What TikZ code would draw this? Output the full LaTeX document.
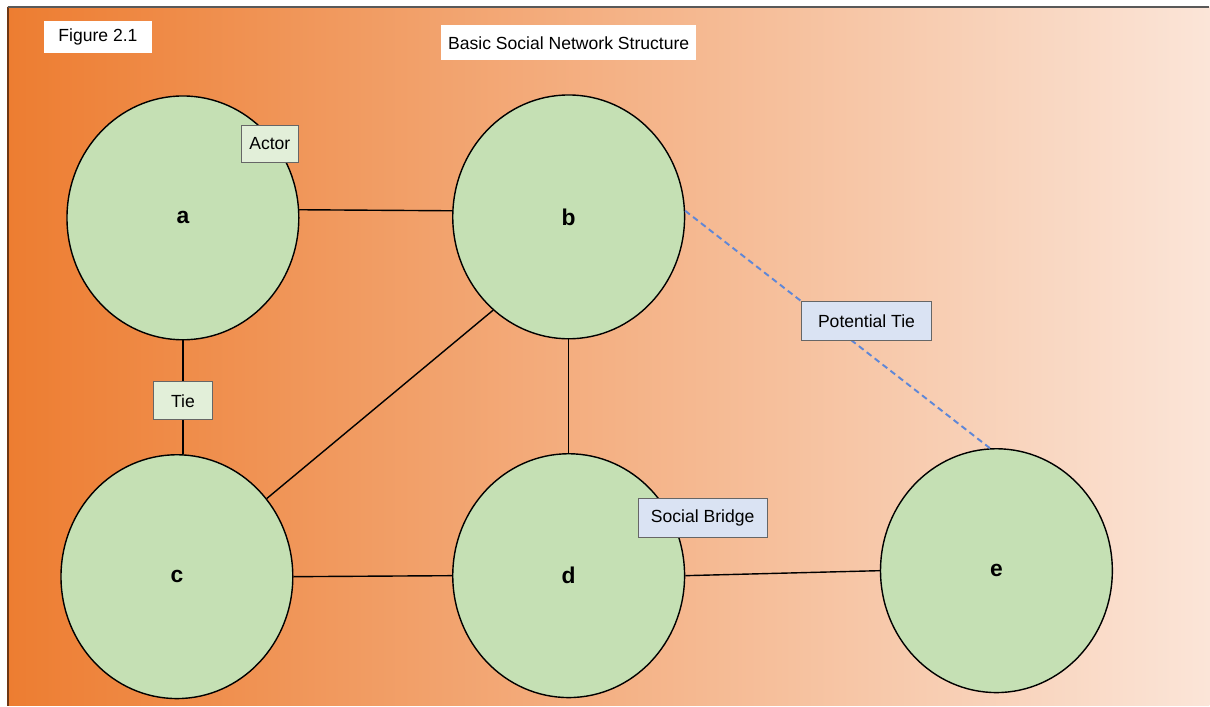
\documentclass[tikz,border=0pt]{standalone}
\usepackage{fontspec}
\setmainfont{Liberation Sans}
\usetikzlibrary{shapes.geometric}
\definecolor{bgleft}{RGB}{237,125,49}
\definecolor{bgright}{RGB}{251,229,216}
\definecolor{actorfill}{RGB}{197,224,180}
\definecolor{tagfill}{RGB}{226,239,217}
\definecolor{bluetag}{RGB}{218,227,243}
\definecolor{dashblue}{RGB}{95,135,215}
\definecolor{edgebrown}{RGB}{110,55,20}

\tikzset{
  actor/.style={ellipse, draw=black, thick, fill=actorfill, inner sep=0pt,
    minimum width=4.64cm, minimum height=4.88cm, font=\fontsize{13}{15}\selectfont\bfseries},
  tie/.style={black, thick},
  greentag/.style={draw=gray!80!black, fill=tagfill, inner sep=0pt, font=\fontsize{10}{12}\selectfont},
  bluebox/.style={draw=gray!80!black, fill=bluetag, inner sep=0pt, font=\fontsize{10}{12}\selectfont},
  whitebox/.style={fill=white, inner sep=0pt, font=\fontsize{10}{12}\selectfont}
}

\begin{document}
\begin{tikzpicture}[x=0.02cm, y=-0.02cm]
% Background
\fill[white] (0,0) rectangle (1210,706);
\shade[left color=bgleft, right color=bgright] (8,7) rectangle (1210,706);
\draw[edgebrown, thick] (8,7) -- (8,706);
\draw[gray!70!black, thick] (8,7) -- (1210,7);

% Actors
\node[actor] (a) at (183,218) {a};
\node[actor] (b) at (569,217) {b};
\node[actor] (c) at (177,577) {c};
\node[actor] (d) at (569,576) {d};
\node[actor] (e) at (997,571) {e};

% Ties
\draw[tie] (a.4) -- (b.177);
\draw[tie] (a.south) -- (a.south |- c.north);
\draw[tie] (b.231) -- (c.41);
\draw[tie] (b.south) -- (d.north);
\draw[tie] (c.east) -- (d.west);
\draw[tie] (d.east) -- (e.west);
\draw[dashblue, line width=1.1pt, dash pattern=on 3.4pt off 2.3pt] (b.3) -- (e.93);

% Labels
\node[whitebox, minimum width=2.16cm, minimum height=0.64cm] (fig) at (98,37) {Figure 2.1};
\node[whitebox, minimum width=5.1cm, minimum height=0.7cm] (title) at (569,43) {Basic Social Network Structure};
\node[greentag, minimum width=1.14cm, minimum height=0.74cm] (actorlbl) at (270,144) {Actor};
\node[greentag, minimum width=1.18cm, minimum height=0.76cm] (tielbl) at (183,401) {Tie};
\node[bluebox, minimum width=2.6cm, minimum height=0.78cm] (potlbl) at (867,321) {Potential Tie};
\node[bluebox, minimum width=2.58cm, minimum height=0.78cm] (bridgelbl) at (703,518) {Social Bridge};
\end{tikzpicture}
\end{document}
